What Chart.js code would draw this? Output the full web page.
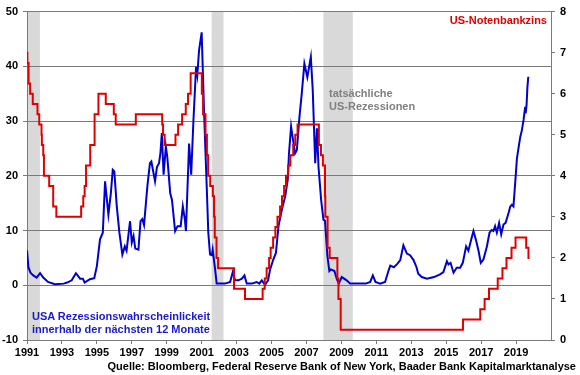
<!DOCTYPE html>
<html>
<head>
<meta charset="utf-8">
<script src="https://cdn.jsdelivr.net/npm/chart.js@4"></script>
<style>
    body { margin: 0; background: #fff; }
    #wrap { position: relative; width: 580px; height: 375px; font-family: "Liberation Sans", Arial, sans-serif; font-weight: bold; font-size: 11px; line-height: 13px; }
    #wrap div { position: absolute; white-space: nowrap; }
</style>
</head>
<body>
<div id="wrap">
    <canvas id="chart" width="580" height="375"></canvas>
    <div style="right: 33px; top: 14px; color: #e00000;">US-Notenbankzins</div>
    <div style="left: 329px; top: 87px; color: #808080;">tatsächliche<br>US-Rezessionen</div>
    <div style="left: 32px; top: 310px; color: #1a1acc;">USA Rezessionswahrscheinlickeit<br>innerhalb der nächsten 12 Monate</div>
    <div style="right: 4px; top: 360px; color: #000;">Quelle: Bloomberg, Federal Reserve Bank of New York, Baader Bank Kapitalmarktanalyse</div>
</div>
<script>
// recession probability (left axis, %)
const probYears = [
    1991.0, 1991.08, 1991.2, 1991.36, 1991.55, 1991.75, 1991.93, 1992.2, 1992.6, 1993.1,
    1993.3, 1993.56, 1993.8, 1994.04, 1994.2, 1994.3, 1994.6, 1994.85, 1995.0, 1995.18,
    1995.34, 1995.47, 1995.66, 1995.8, 1995.91, 1996.0, 1996.14, 1996.29, 1996.46, 1996.6,
    1996.7, 1996.9, 1997.0, 1997.1, 1997.2, 1997.38, 1997.5, 1997.6, 1997.7, 1997.9,
    1998.04, 1998.12, 1998.33, 1998.44, 1998.56, 1998.64, 1998.72, 1998.82, 1998.95, 1999.03,
    1999.2, 1999.3, 1999.48, 1999.62, 1999.8, 1999.92, 2000.04, 2000.1, 2000.28, 2000.4,
    2000.53, 2000.68, 2000.75, 2000.85, 2001.0, 2001.14, 2001.29, 2001.38, 2001.48, 2001.58,
    2001.63, 2001.77, 2001.86, 2002.05, 2002.34, 2002.63, 2002.78, 2002.91, 2003.1, 2003.3,
    2003.45, 2003.58, 2003.87, 2004.15, 2004.3, 2004.44, 2004.63, 2004.8, 2004.92, 2005.1,
    2005.25, 2005.4, 2005.59, 2005.78, 2005.93, 2006.0, 2006.12, 2006.2, 2006.35, 2006.45,
    2006.6, 2006.73, 2006.88, 2007.05, 2007.25, 2007.36, 2007.5, 2007.6, 2007.69, 2007.84,
    2007.97, 2008.06, 2008.2, 2008.31, 2008.4, 2008.6, 2008.74, 2008.85, 2009.02, 2009.3,
    2009.5, 2009.9, 2010.4, 2010.65, 2010.8, 2010.95, 2011.22, 2011.5, 2011.7, 2011.8,
    2012.0, 2012.2, 2012.37, 2012.55, 2012.75, 2012.93, 2013.13, 2013.3, 2013.4, 2013.6,
    2013.9, 2014.3, 2014.65, 2014.84, 2015.04, 2015.13, 2015.25, 2015.42, 2015.6, 2015.8,
    2015.95, 2016.14, 2016.27, 2016.41, 2016.56, 2016.72, 2016.85, 2016.98, 2017.13, 2017.33,
    2017.48, 2017.6, 2017.7, 2017.8, 2017.9, 2018.03, 2018.15, 2018.28, 2018.4, 2018.57,
    2018.67, 2018.76, 2018.85, 2018.95, 2019.05, 2019.15, 2019.24, 2019.33, 2019.43, 2019.52,
    2019.55, 2019.6, 2019.65, 2019.7
];
const probValues = [
    6.4, 3.3, 2.3, 1.8, 1.4, 2.2, 1.4, 0.6, 0.2, 0.3,
    0.5, 0.9, 2.2, 1.2, 1.2, 0.5, 1.1, 1.3, 3.5, 8.4,
    9.6, 19, 12.9, 16.8, 21.1, 20.8, 14.4, 9.6, 5.6, 7.1,
    6.3, 11.7, 7.8, 9, 6.7, 6.5, 11.7, 12.1, 11, 18.4,
    22.3, 22.6, 19, 21.6, 22.3, 24.2, 27.8, 20.2, 25.3, 23.5,
    16.8, 15.6, 9.9, 10.8, 10.8, 14.4, 12, 9.9, 25.9, 20.2,
    30.2, 39.9, 38.4, 42.9, 46.2, 31.4, 18, 9.6, 5.6, 5.5,
    6.5, 2.9, 0.3, 0.3, 0.3, 0.6, 2.4, 0.9, 0.9, 1.2,
    1.8, 0.3, 0.3, 0.6, 0.3, 0.9, 0.1, 0.9, 2.9, 4.7,
    5.9, 10.8, 13.8, 16.2, 19.3, 24.1, 29, 27.2, 24.1, 24.7,
    30.8, 35, 40.5, 38, 41.7, 35.6, 22.3, 28.7, 21.6, 15.6,
    12, 11.8, 5.3, 2.6, 2.9, 2.6, 1.1, 0.3, 1.5, 0.9,
    0.3, 0.3, 0.3, 0.6, 1.8, 0.6, 0.3, 0.6, 2.7, 3.6,
    3.3, 3.9, 4.6, 7.3, 5.8, 5.5, 4.6, 3.3, 2.1, 1.5,
    1.2, 1.5, 2.0, 2.4, 4.4, 3.8, 4.1, 2.3, 3.2, 3.2,
    4.1, 7.1, 6.3, 8.1, 9.9, 8.1, 6.3, 4.1, 4.7, 7.1,
    9.6, 10.1, 9.9, 10.8, 9.6, 11.4, 9.3, 11.1, 11.4, 13.2,
    14.4, 14.7, 14.4, 18.7, 23.2, 25.3, 27.1, 28.3, 30.2, 32.6,
    31.4, 32.9, 36.2, 38.1
];

// fed funds target: date of each change and the new rate (right axis, %)
const fedDates = [
    1991.0, 1991.02, 1991.09, 1991.18, 1991.33, 1991.6, 1991.7, 1991.83, 1991.85, 1991.93,
    1991.97, 1992.27, 1992.5, 1992.68, 1994.1, 1994.22, 1994.3, 1994.38, 1994.62, 1994.87,
    1995.09, 1995.51, 1995.97, 1996.08, 1997.23, 1998.74, 1998.79, 1998.88, 1999.5, 1999.65,
    1999.88, 2000.09, 2000.22, 2000.37, 2001.01, 2001.08, 2001.22, 2001.3, 2001.37, 2001.49,
    2001.64, 2001.71, 2001.75, 2001.85, 2001.94, 2002.85, 2003.48, 2004.49, 2004.61, 2004.72,
    2004.86, 2004.95, 2005.09, 2005.22, 2005.34, 2005.49, 2005.6, 2005.72, 2005.83, 2005.95,
    2006.08, 2006.24, 2006.36, 2006.49, 2007.71, 2007.83, 2007.94, 2008.06, 2008.08, 2008.21,
    2008.33, 2008.77, 2008.83, 2008.96, 2015.96, 2016.95, 2017.2, 2017.45, 2017.95, 2018.22,
    2018.45, 2018.74, 2018.97, 2019.58, 2019.71, 2019.77
];
const fedRates = [
    7.0, 6.75, 6.25, 6.0, 5.75, 5.5, 5.25, 5.0, 4.75, 4.5,
    4.0, 3.75, 3.25, 3.0, 3.25, 3.5, 3.75, 4.25, 4.75, 5.5,
    6.0, 5.75, 5.5, 5.25, 5.5, 5.25, 5.0, 4.75, 5.0, 5.25,
    5.5, 5.75, 6.0, 6.5, 6.0, 5.5, 5.0, 4.5, 4.0, 3.75,
    3.5, 3.0, 2.5, 2.0, 1.75, 1.25, 1.0, 1.25, 1.5, 1.75,
    2.0, 2.25, 2.5, 2.75, 3.0, 3.25, 3.5, 3.75, 4.0, 4.25,
    4.5, 4.75, 5.0, 5.25, 4.75, 4.5, 4.25, 3.5, 3.0, 2.25,
    2.0, 1.5, 1.0, 0.25, 0.5, 0.75, 1.0, 1.25, 1.5, 1.75,
    2.0, 2.25, 2.5, 2.25, 2.0, 2.0
];

// shaded US recessions
const recessionStarts = [1991.0, 2001.57, 2007.97];
const recessionEnds = [1991.74, 2002.25, 2009.65];

const xTickYears = [1991, 1993, 1995, 1997, 1999, 2001, 2003, 2005, 2007, 2009, 2011, 2013, 2015, 2017, 2019];

const gridColor = '#7a7a7a';
const tickFont = { family: 'Liberation Sans, Arial, sans-serif', size: 11, weight: 'bold' };

// grey bands behind everything, placed with the x scale
const recessionBands = {
    id: 'recessionBands',
    beforeDraw(chart) {
        const ctx = chart.ctx;
        const area = chart.chartArea;
        const xs = chart.scales.x;
        ctx.save();
        ctx.fillStyle = '#d9d9d9';
        recessionStarts.forEach((s, i) => {
            const x1 = xs.getPixelForValue(s);
            const x2 = xs.getPixelForValue(recessionEnds[i]);
            ctx.fillRect(x1, area.top, x2 - x1, area.bottom - area.top);
        });
        ctx.restore();
    }
};

new Chart(document.getElementById('chart'), {
    type: 'line',
    data: {
        datasets: [
            {
                label: 'US-Notenbankzins',
                data: fedDates.map((d, i) => ({ x: d, y: fedRates[i] })),
                yAxisID: 'y1',
                borderColor: '#e00000',
                borderWidth: 2,
                stepped: 'before',
                pointRadius: 0
            },
            {
                label: 'USA Rezessionswahrscheinlickeit',
                data: probYears.map((d, i) => ({ x: d, y: probValues[i] })),
                yAxisID: 'y',
                borderColor: '#0000cc',
                borderWidth: 2,
                tension: 0,
                pointRadius: 0
            }
        ]
    },
    options: {
        responsive: false,
        animation: false,
        layout: { padding: { top: 11, left: 0, right: 0, bottom: 0 } },
        plugins: {
            legend: { display: false },
            tooltip: { enabled: false }
        },
        scales: {
            x: {
                type: 'linear',
                min: 1991,
                max: 2021,
                afterBuildTicks: scale => { scale.ticks = xTickYears.map(v => ({ value: v })); },
                afterFit: scale => { scale.height = 35; },
                grid: { drawOnChartArea: false, tickLength: 4, color: gridColor },
                border: { color: gridColor },
                ticks: {
                    color: '#000',
                    font: tickFont,
                    padding: 2,
                    maxRotation: 0,
                    autoSkip: false,
                    callback: v => String(v)
                }
            },
            y: {
                position: 'left',
                min: -10,
                max: 50,
                afterFit: scale => { scale.width = 27; },
                grid: { color: gridColor, tickLength: 4 },
                border: { color: gridColor },
                ticks: { stepSize: 10, color: '#000', font: tickFont, padding: 5 }
            },
            y1: {
                position: 'right',
                min: 0,
                max: 8,
                afterFit: scale => { scale.width = 29; },
                grid: { drawOnChartArea: false, color: gridColor, tickLength: 4 },
                border: { color: gridColor },
                ticks: { stepSize: 1, color: '#000', font: tickFont, padding: 5 }
            }
        }
    },
    plugins: [recessionBands]
});
</script>
</body>
</html>
